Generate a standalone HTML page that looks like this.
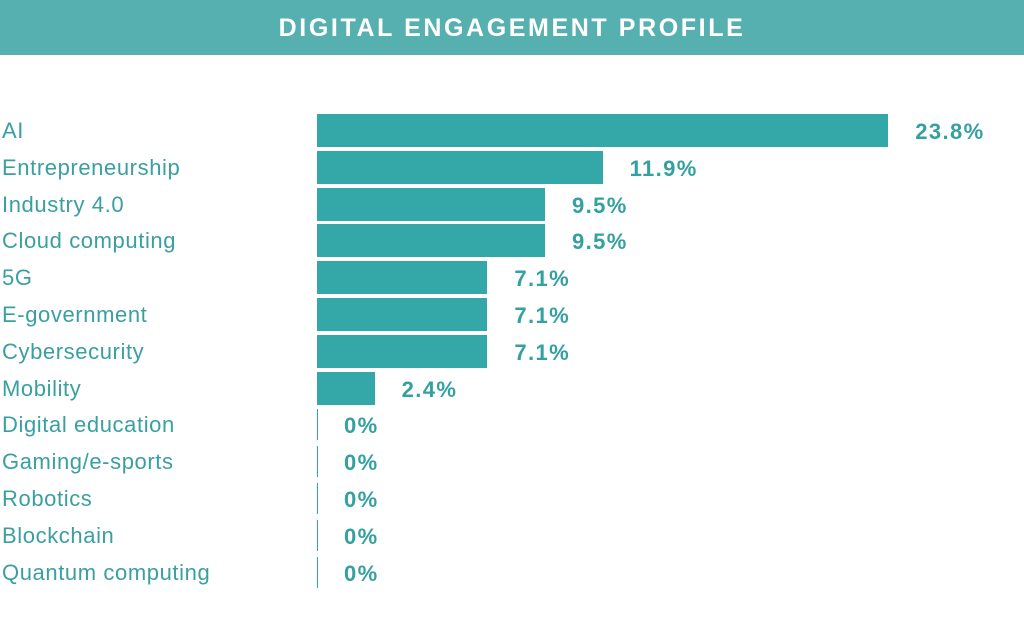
<!DOCTYPE html>
<html><head><meta charset="utf-8"><style>
body{margin:0;width:1024px;height:617px;background:#fff;position:relative;overflow:hidden;font-family:"Liberation Sans",sans-serif}
.hd{position:absolute;left:0;top:0;width:1024px;height:55px;background:#57b0b0;color:#fff;font-weight:bold;font-size:25px;letter-spacing:2.6px;text-align:center;line-height:57px}
.l{position:absolute;left:2px;font-size:22px;letter-spacing:0.6px;color:#3a9fa0;height:33px;line-height:33px}
.b{position:absolute;left:317px;height:33px;background:#34a8a8}
.z{position:absolute;left:317px;width:1px;height:31px;background:#34a8a8}
.v{position:absolute;font-size:22px;letter-spacing:1.4px;font-weight:bold;color:#34a0a0;height:33px;line-height:33px}
</style></head><body>
<div class="hd">DIGITAL ENGAGEMENT PROFILE</div>
<div id="c"></div>
<script>
var d=[["AI",23.8,"23.8%"],["Entrepreneurship",11.9,"11.9%"],["Industry 4.0",9.5,"9.5%"],["Cloud computing",9.5,"9.5%"],["5G",7.1,"7.1%"],["E-government",7.1,"7.1%"],["Cybersecurity",7.1,"7.1%"],["Mobility",2.4,"2.4%"],["Digital education",0,"0%"],["Gaming/e-sports",0,"0%"],["Robotics",0,"0%"],["Blockchain",0,"0%"],["Quantum computing",0,"0%"]];
var h="";d.forEach(function(r,i){var y=114+i*36.8;var w=r[1]*24;
h+='<div class="l" style="top:'+(y)+'px">'+r[0]+'</div>';
if(w>0)h+='<div class="b" style="top:'+y+'px;width:'+w+'px"></div>';else h+='<div class="z" style="top:'+(y+1)+'px"></div>';
h+='<div class="v" style="top:'+(y+1)+'px;left:'+(317+w+27)+'px">'+r[2]+'</div>';});
document.getElementById("c").innerHTML=h;
</script>
</body></html>
